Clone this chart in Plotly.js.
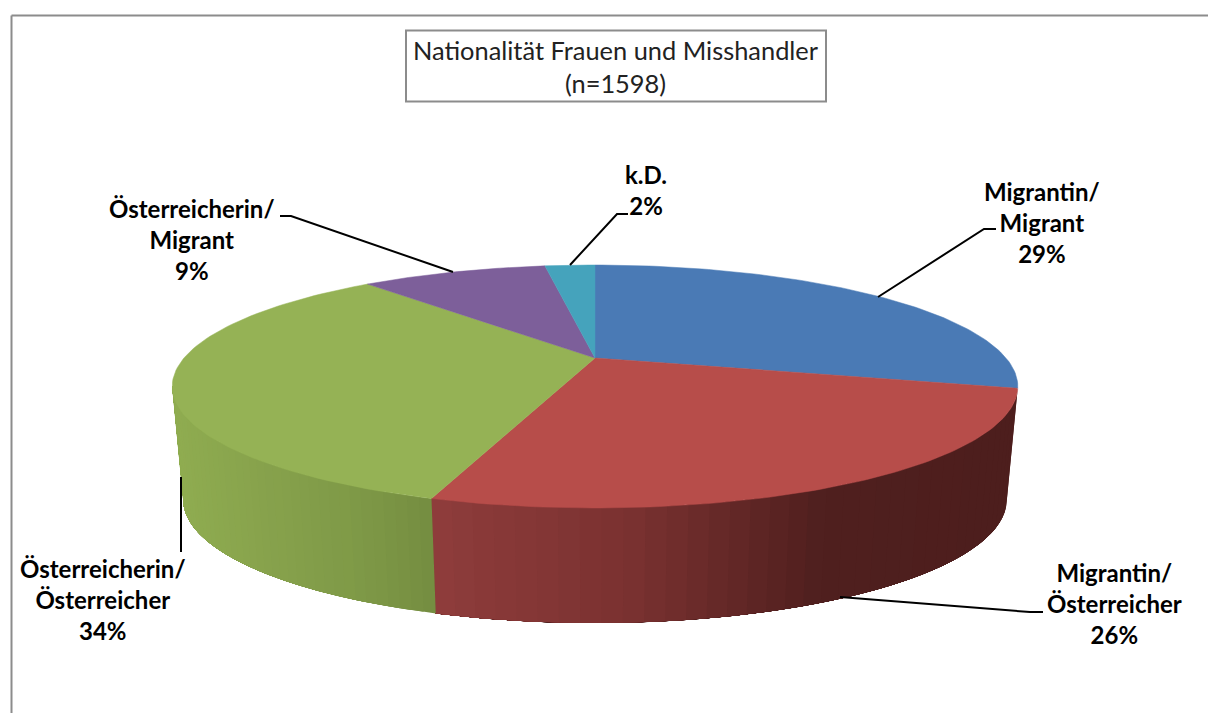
<!DOCTYPE html>
<html>
<head>
<meta charset="utf-8">
<script src="https://cdn.plot.ly/plotly-3.0.1.min.js"></script>
<style>html,body{margin:0;padding:0;background:#fff;overflow:hidden}#chart{width:1208px;height:713px}</style>
</head>
<body>
<div id="chart"></div>
<script>
// ---- data ----
const categories = ["Migrantin/<br>Migrant", "Migrantin/<br>Österreicher", "Österreicherin/<br>Österreicher", "Österreicherin/<br>Migrant", "k.D."];
const values = [29, 26, 33.7, 8.9, 2.4];
const titleText = "Nationalität Frauen und Misshandler<br>(n=1598)";

// ---- styles ----
const topColors = ["#4A7AB5", "#B74D4A", "#95B255", "#7D5F9A", "#45A3BC"];
const wallStops = [null, ["#8E3C3B", "#7A3130", "#4F1F1E", "#4D1E1D"], ["#8FAC50", "#87A24C", "#7F9A47", "#748C40"], null, null];
const labelAnchors = [[1042, 222], [1114, 603], [103, 599], [192, 239], [646, 190]];
const leaders = [
  [[996, 229], [984, 229], [878, 297]],
  [[1043, 612], [1030, 612], [840, 597]],
  [[181, 552], [181, 477]],
  [[280, 216], [291, 216], [453, 272]],
  [[628, 214], [617, 214], [570, 265]]
];

// ---- projection of the tilted pie onto the page ----
const apex = [595, 358], K = 0.2346, A = 114.8, B = 411;
const rimCy = 386, rimRy = 121;
const baseCy = 499, baseRy = 123, baseSx = 412 / 423;
function rim(theta) {
  const s = Math.sin(theta), c = Math.cos(theta), d = 1 + K * c;
  return [apex[0] + B * s / d, apex[1] - A * c / d];
}
function base(theta) {
  const p = rim(theta);
  return [apex[0] + (p[0] - apex[0]) * baseSx, baseCy + (p[1] - rimCy) * baseRy / rimRy];
}
function hex(c) { return [1, 3, 5].map(i => parseInt(c.substr(i, 2), 16)); }
function ramp(stops, f) {
  const t = Math.min(0.9999, Math.max(0, f)) * (stops.length - 1), i = Math.floor(t), u = t - i;
  const a = hex(stops[i]), b = hex(stops[i + 1]);
  return "rgb(" + a.map((v, j) => Math.round(v + (b[j] - v) * u)).join(",") + ")";
}

const total = values.reduce((a, b) => a + b, 0);
const TWO_PI = 2 * Math.PI;
const leftmost = TWO_PI - 103 * Math.PI / 180;
let cum = 0;
const traces = [];
const tops = [];
values.forEach((v, i) => {
  const t0 = cum / total * TWO_PI, t1 = (cum + v) / total * TWO_PI;
  cum += v;
  // side wall: each band reaches to the end of the wall and the next band paints over it, so no seams show
  if (wallStops[i]) {
    const end = Math.min(t1, leftmost), N = 40, S = 60;
    const bands = [];
    for (let n = 0; n < N; n++) {
      const a = t0 + (end - t0) * n / N, b = t0 + (end - t0) * (n + 1) / N;
      const xm = (rim(a)[0] + rim(b)[0]) / 2;
      const f = i === 1 ? (xm - 437) / (1018 - 437) : (xm - 175) / (437 - 175);
      const col = ramp(wallStops[i], f);
      const top = [], bot = [];
      for (let k = 0; k <= S; k++) {
        const th = a + (end - a) * k / S;
        top.push(rim(th)); bot.unshift(base(th));
      }
      const pts = top.concat(bot);
      bands.push({
        type: "scatter", mode: "lines", fill: "toself", fillcolor: col,
        x: pts.map(p => p[0]).concat(pts[0][0]), y: pts.map(p => p[1]).concat(pts[0][1]),
        line: { color: col, width: 0 }, hoverinfo: "skip", showlegend: false
      });
    }
    traces.push(...bands);
  }
  // top face
  const xs = [apex[0]], ys = [apex[1]], M = 90;
  for (let n = 0; n <= M; n++) {
    const p = rim(t0 + (t1 - t0) * n / M);
    xs.push(p[0]); ys.push(p[1]);
  }
  xs.push(apex[0]); ys.push(apex[1]);
  tops.push({
    type: "scatter", mode: "lines", fill: "toself", fillcolor: topColors[i],
    x: xs, y: ys, line: { color: topColors[i], width: 0.5 },
    name: categories[i].replace("<br>", " "),
    text: Math.round(v) + "%", hoverinfo: "name+text", showlegend: false
  });
});
traces.push(...tops);

// leader lines
leaders.forEach(l => traces.push({
  type: "scatter", mode: "lines", x: l.map(p => p[0]), y: l.map(p => p[1]),
  line: { color: "#000", width: 2 }, hoverinfo: "skip", showlegend: false
}));

const annotations = categories.map((c, i) => ({
  x: labelAnchors[i][0], y: labelAnchors[i][1], xref: "x", yref: "y",
  text: "<b>" + c + "<br>" + Math.round(values[i]) + "%</b>",
  showarrow: false, align: "center", xanchor: "center", yanchor: "middle",
  font: { family: "Lato, 'Open Sans', sans-serif", size: 24, color: "#000" }
}));
annotations.push({
  x: 616, y: 66, xref: "x", yref: "y", text: titleText, showarrow: false, align: "center",
  xanchor: "center", yanchor: "middle",
  font: { family: "Lato, 'Open Sans', sans-serif", size: 25.4, color: "#222" }
});

const frameColor = "#8C8C8C";
const shapes = [
  { type: "line", xref: "x", yref: "y", x0: 11.5, x1: 1208, y0: 15.5, y1: 15.5, line: { color: frameColor, width: 2 } },
  { type: "line", xref: "x", yref: "y", x0: 11.5, x1: 11.5, y0: 15.5, y1: 713, line: { color: frameColor, width: 2 } },
  { type: "rect", xref: "x", yref: "y", x0: 406, x1: 826, y0: 30.5, y1: 101.5, line: { color: frameColor, width: 2 }, fillcolor: "#fff", layer: "below" }
];

Plotly.newPlot("chart", traces, {
  width: 1208, height: 713,
  margin: { l: 0, r: 0, t: 0, b: 0 },
  paper_bgcolor: "#fff", plot_bgcolor: "#fff",
  xaxis: { range: [0, 1208], visible: false, fixedrange: true },
  yaxis: { range: [713, 0], visible: false, fixedrange: true },
  showlegend: false, annotations, shapes
}, { displayModeBar: false, responsive: false });
</script>
</body>
</html>
